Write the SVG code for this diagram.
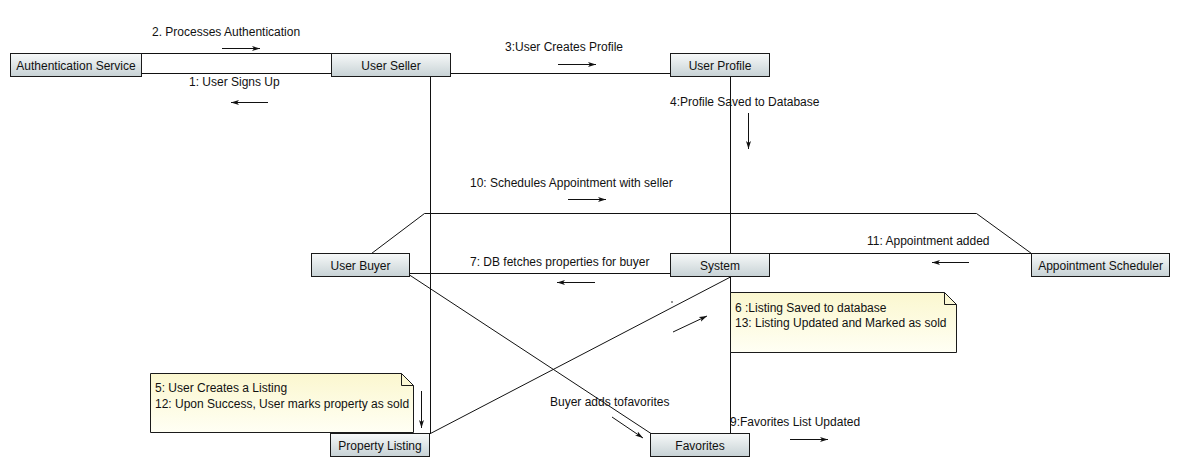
<svg xmlns="http://www.w3.org/2000/svg" width="1179" height="473" viewBox="0 0 1179 473">
  <defs>
    <linearGradient id="boxGrad" x1="0" y1="0" x2="0" y2="1">
      <stop offset="0" stop-color="#f7f9f9"/>
      <stop offset="1" stop-color="#c7d2d5"/>
    </linearGradient>
    <linearGradient id="noteGrad" x1="0" y1="0" x2="0" y2="1">
      <stop offset="0" stop-color="#fbf7cf"/>
      <stop offset="1" stop-color="#fffff4"/>
    </linearGradient>
    <marker id="ah" viewBox="0 0 8 6" markerWidth="8" markerHeight="6" refX="8" refY="3" orient="auto" markerUnits="userSpaceOnUse">
      <path d="M0,0.5 L8,3 L0,5.5 L2,3 z" fill="#111"/>
    </marker>
    <style>
      .box { fill: url(#boxGrad); stroke: #1a1a1a; stroke-width: 1; }
      .note { fill: url(#noteGrad); stroke: #1a1a1a; stroke-width: 1; }
      .fold { fill: none; stroke: #1a1a1a; stroke-width: 1; }
      .lbl { font-family: "Liberation Sans", Arial, sans-serif; font-size: 12px; fill: #111; }
      .c { text-anchor: middle; }
      .conn { fill: none; stroke: #111; stroke-width: 1; }
      .msg { fill: none; stroke: #111; stroke-width: 1; marker-end: url(#ah); }
    </style>
  </defs>
  <rect width="1179" height="473" fill="#ffffff"/>

  <g id="connectors">
    <path class="conn" d="M142 53.5 H331"/>
    <path class="conn" d="M142 73.5 H331"/>
    <path class="conn" d="M450 73.5 H670"/>
    <path class="conn" d="M430.5 76.5 V433.5"/>
    <path class="conn" d="M730.5 76.5 V253.5"/>
    <path class="conn" d="M730.5 276.5 V433.5"/>
    <path class="conn" d="M409.5 273.5 H670.5"/>
    <path class="conn" d="M371.5 253.5 L424.5 213.5 H976.5 L1031.5 253.5"/>
    <path class="conn" d="M769.5 253.5 H1031.5"/>
    <path class="conn" d="M409.5 275 L651 433.5"/>
    <path class="conn" d="M730.5 277 L429.5 434"/>
    <circle cx="672" cy="302" r="0.8" fill="#111"/>
  </g>

  <g id="messages">
    <text class="lbl" x="152" y="36">2. Processes Authentication</text>
    <path class="msg" d="M222 48.5 H260"/>
    <text class="lbl" x="189" y="86">1: User Signs Up</text>
    <path class="msg" d="M268 102.5 H231"/>
    <text class="lbl" x="505" y="51">3:User Creates Profile</text>
    <path class="msg" d="M558 64.5 H596"/>
    <text class="lbl" x="670" y="106">4:Profile Saved to Database</text>
    <path class="msg" d="M748.5 113 V149"/>
    <text class="lbl" x="470" y="187">10: Schedules Appointment with seller</text>
    <path class="msg" d="M568 199.5 H606"/>
    <text class="lbl" x="470" y="266">7: DB fetches properties for buyer</text>
    <path class="msg" d="M595 282.5 H557"/>
    <text class="lbl" x="867" y="245">11: Appointment added</text>
    <path class="msg" d="M969 262.5 H932"/>
    <path class="msg" d="M673 332 L707 316" stroke="#2b3a3a"/>
    <path class="msg" d="M421.5 391 V428"/>
    <text class="lbl" x="550" y="406">Buyer adds tofavorites</text>
    <path class="msg" d="M612 417 L643 438" stroke="#2b3a3a"/>
    <text class="lbl" x="730" y="426">9:Favorites List Updated</text>
    <path class="msg" d="M790 439.5 H828"/>
  </g>

  <g id="note-listing">
    <path class="note" d="M150.5 373.5 H401.5 L413.5 385.5 V432.5 H150.5 Z"/>
    <path class="fold" d="M401.5 373.5 V385.5 H413.5"/>
    <text class="lbl" x="155" y="392">5: User Creates a Listing</text>
    <text class="lbl" x="155" y="408">12: Upon Success, User marks property as sold</text>
  </g>

  <g id="note-system">
    <path class="note" d="M730.5 292.5 H944.5 L956.5 304.5 V352.5 H730.5 Z"/>
    <path class="fold" d="M944.5 292.5 V304.5 H956.5"/>
    <text class="lbl" x="735" y="312">6 :Listing Saved to database</text>
    <text class="lbl" x="735" y="327">13: Listing Updated and Marked as sold</text>
  </g>

  <g id="authentication-service">
    <rect class="box" x="10.5" y="53.5" width="131" height="23"/>
    <text class="lbl c" x="76" y="69.5">Authentication Service</text>
  </g>
  <g id="user-seller">
    <rect class="box" x="331.5" y="53.5" width="119" height="23"/>
    <text class="lbl c" x="391" y="69.5">User Seller</text>
  </g>
  <g id="user-profile">
    <rect class="box" x="670.5" y="53.5" width="99" height="23"/>
    <text class="lbl c" x="720" y="69.5">User Profile</text>
  </g>
  <g id="user-buyer">
    <rect class="box" x="311.5" y="253.5" width="98" height="23"/>
    <text class="lbl c" x="360.5" y="269.5">User Buyer</text>
  </g>
  <g id="system">
    <rect class="box" x="670.5" y="253.5" width="99" height="23"/>
    <text class="lbl c" x="720" y="269.5">System</text>
  </g>
  <g id="appointment-scheduler">
    <rect class="box" x="1031.5" y="253.5" width="138" height="23"/>
    <text class="lbl c" x="1100.5" y="269.5">Appointment Scheduler</text>
  </g>
  <g id="property-listing">
    <rect class="box" x="330.5" y="433.5" width="99" height="23"/>
    <text class="lbl c" x="380" y="449.5">Property Listing</text>
  </g>
  <g id="favorites">
    <rect class="box" x="650.5" y="433.5" width="99" height="23"/>
    <text class="lbl c" x="700" y="449.5">Favorites</text>
  </g>
</svg>
